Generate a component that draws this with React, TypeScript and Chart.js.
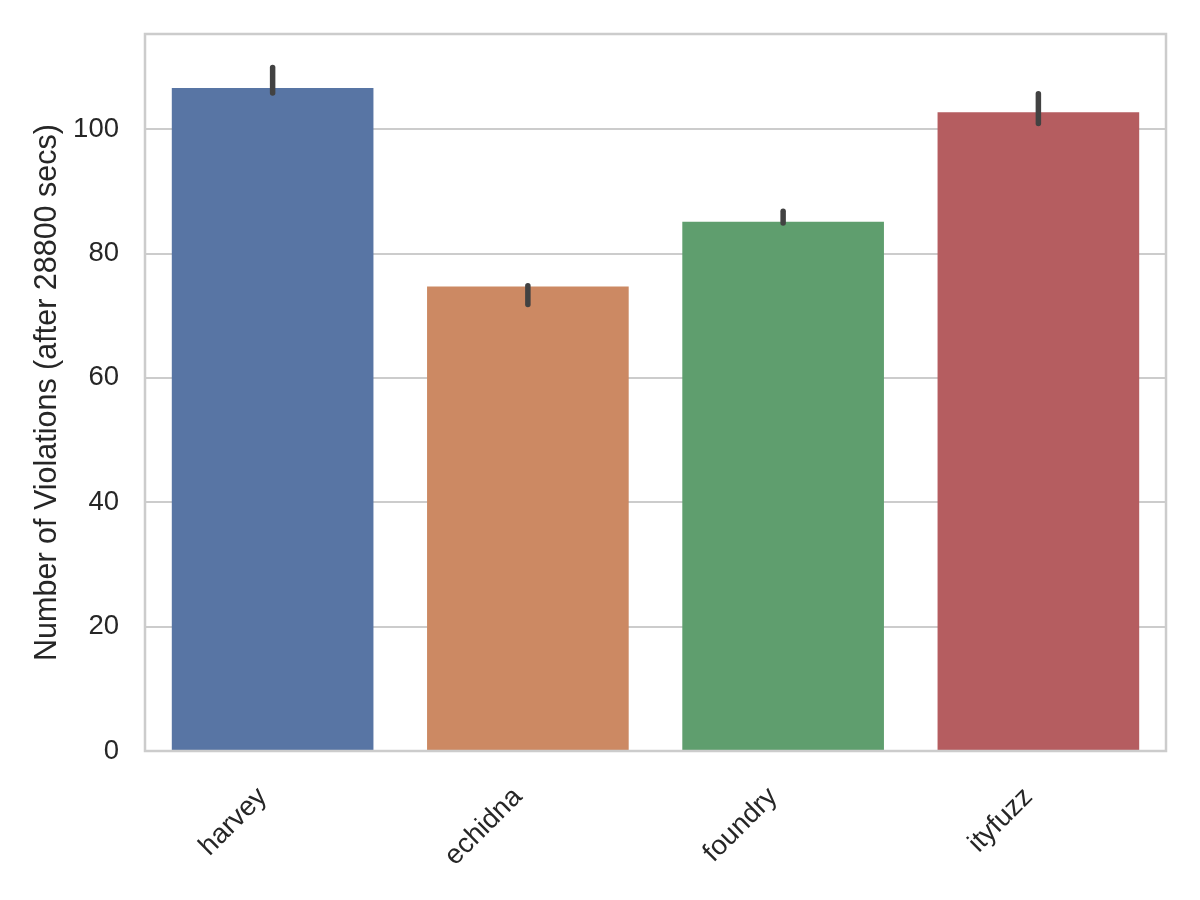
import React, { useEffect, useRef } from "react";
import { Chart, registerables } from "chart.js";

Chart.register(...registerables);

const categories = ["harvey", "echidna", "foundry", "ityfuzz"];
const meanValues = [106.6, 74.7, 85.1, 102.7];
const ciLow = [105.8, 71.8, 84.9, 100.9];
const ciHigh = [109.9, 74.8, 86.8, 105.7];
const barColors = ["#5875A4", "#CC8963", "#5F9E6E", "#B55D60"];
const yTicks = [0, 20, 40, 60, 80, 100];
const yTitle = "Number of Violations (after 28800 secs)";

const FONT = "'Liberation Sans', Arial, sans-serif";

const errorBarPlugin = {
  id: "errorBars",
  afterDatasetsDraw(chart: any) {
    const ctx = chart.ctx;
    const xs = chart.scales.x;
    const ys = chart.scales.y;
    ctx.save();
    ctx.strokeStyle = "#424242";
    ctx.lineWidth = 5.5;
    ctx.lineCap = "round";
    categories.forEach((_, i) => {
      const x = xs.getPixelForValue(i);
      ctx.beginPath();
      ctx.moveTo(x, ys.getPixelForValue(ciLow[i]));
      ctx.lineTo(x, ys.getPixelForValue(ciHigh[i]));
      ctx.stroke();
    });
    ctx.restore();
  },
};

const framePlugin = {
  id: "frame",
  afterDraw(chart: any) {
    const { ctx, chartArea } = chart;
    ctx.save();
    ctx.strokeStyle = "#cccccc";
    ctx.lineWidth = 2.5;
    ctx.strokeRect(
      chartArea.left,
      chartArea.top,
      chartArea.right - chartArea.left,
      chartArea.bottom - chartArea.top
    );
    ctx.restore();
  },
};

export default function App() {
  const canvasRef = useRef<HTMLCanvasElement | null>(null);

  useEffect(() => {
    if (!canvasRef.current) return;
    const chart = new Chart(canvasRef.current, {
      type: "bar",
      data: {
        labels: categories,
        datasets: [
          {
            data: meanValues,
            backgroundColor: barColors,
            borderWidth: 0,
            barPercentage: 0.79,
            categoryPercentage: 1,
          },
        ],
      },
      options: {
        animation: false,
        responsive: false,
        maintainAspectRatio: false,
        layout: { padding: { top: 34, right: 34, left: 0, bottom: 0 } },
        plugins: {
          legend: { display: false },
          tooltip: { enabled: false },
        },
        scales: {
          x: {
            grid: { display: false, drawTicks: false },
            border: { display: false },
            ticks: {
              color: "#262626",
              font: { family: FONT, size: 27.5 },
              maxRotation: 45,
              minRotation: 45,
              padding: 30,
              labelOffset: -10,
            },
            afterFit(scale: any) {
              scale.height = 149;
              scale.paddingLeft = 0;
              scale.paddingRight = 0;
            },
          },
          y: {
            min: 0,
            max: 115.3,
            afterBuildTicks(scale: any) {
              scale.ticks = yTicks.map((v) => ({ value: v }));
            },
            grid: {
              color: "#cccccc",
              lineWidth: 2,
              drawTicks: false,
            },
            border: { display: false },
            ticks: {
              color: "#262626",
              font: { family: FONT, size: 27.5 },
              padding: 26,
            },
            title: {
              display: true,
              text: yTitle,
              color: "#262626",
              font: { family: FONT, size: 30.5 },
              padding: { top: 29, bottom: 0 },
            },
            afterFit(scale: any) {
              scale.width = 145;
              scale.paddingTop = 0;
              scale.paddingBottom = 0;
            },
          },
        },
      },
      plugins: [errorBarPlugin, framePlugin],
    });
    return () => chart.destroy();
  }, []);

  return (
    <div style={{ position: "fixed", left: 0, top: 0, width: 1200, height: 900, background: "#ffffff" }}>
      <canvas ref={canvasRef} width={1200} height={900} style={{ width: 1200, height: 900, display: "block" }} />
    </div>
  );
}
